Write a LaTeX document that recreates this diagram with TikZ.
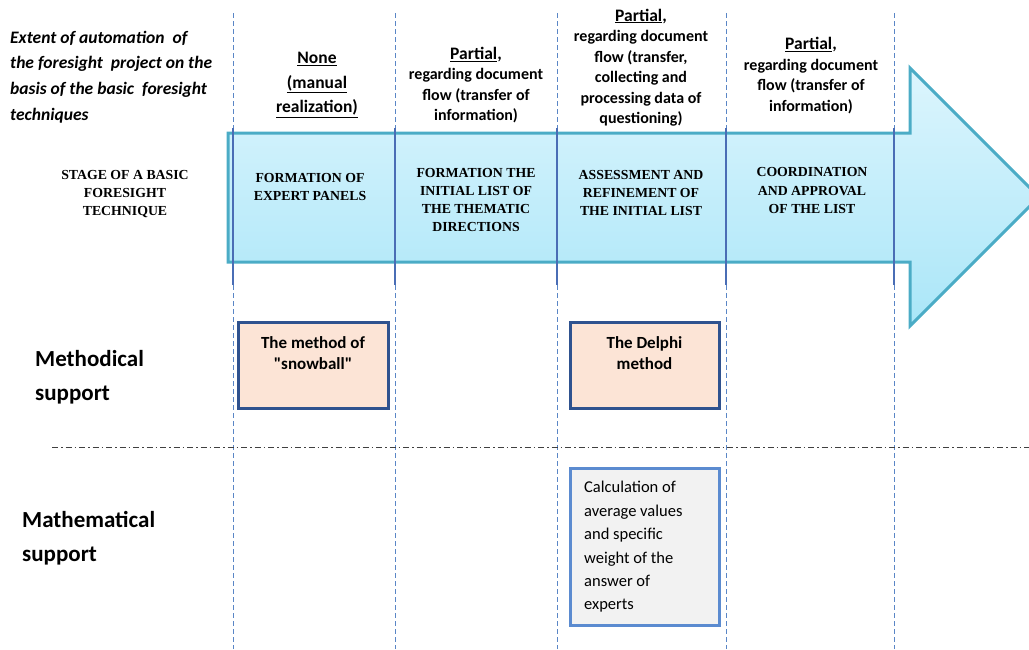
\documentclass[tikz,border=0pt]{standalone}
\usepackage{fontspec}
\setmainfont{Carlito}
\newfontfamily\straightquotes{Carlito}[Ligatures=TeXOff]
\newfontfamily\serifbold{Liberation Serif}
\usetikzlibrary{positioning}
\definecolor{arrowedge}{RGB}{75,172,198}
\definecolor{arrowtop}{RGB}{220,245,253}
\definecolor{arrowbot}{RGB}{170,230,248}
\definecolor{colline}{RGB}{90,134,198}
\definecolor{colsolid}{RGB}{74,109,181}
\definecolor{peach}{RGB}{252,228,214}
\definecolor{darkedge}{RGB}{47,82,143}
\definecolor{lightedge}{RGB}{91,139,208}
\definecolor{greyfill}{RGB}{242,242,242}
\newcommand{\dq}{{\straightquotes\bfseries"}}
\tikzset{
  coldash/.style={colline, line width=1pt, dash pattern=on 5pt off 3pt},
  colsolidline/.style={colsolid, line width=1.6pt},
  headtext/.style={align=center, inner sep=0pt, font=\bfseries\fontsize{16}{20.5}\selectfont},
  stagetext/.style={align=center, inner sep=0pt, font=\serifbold\bfseries\fontsize{13.8}{18.2}\selectfont},
  sidelabel/.style={align=left, anchor=west, inner sep=0pt, font=\bfseries\fontsize{23}{34}\selectfont},
  methodbox/.style={draw=darkedge, fill=peach, line width=3pt, inner sep=0pt},
  calcbox/.style={draw=lightedge, fill=greyfill, line width=3pt, inner sep=0pt},
  boxtext/.style={align=center, inner sep=0pt, font=\bfseries\fontsize{17}{21}\selectfont},
}
\begin{document}
\begin{tikzpicture}[x=1pt, y=-1pt]
\useasboundingbox (0,0) rectangle (1029,649);
\begin{scope}
\clip (0,0) rectangle (1029,649);

% column separators
\foreach \cx/\cn in {233/a,395/b,557/c,726/d,894/e}{
  \coordinate (top\cn) at (\cx,13);
  \coordinate (bot\cn) at (\cx,649);
  \draw[coldash] (top\cn) -- (bot\cn);
}

% the stage arrow
\path[top color=arrowtop, bottom color=arrowbot, draw=arrowedge, line width=3pt, line join=miter]
  (228,133) -- (910,133) -- (910,68) -- (1039,197) -- (910,326) -- (910,262) -- (228,262) -- cycle;

% column separators across the arrow
\foreach \cx/\cn in {233/a,395/b,557/c,726/d,894/e}{
  \coordinate (st\cn) at (\cx,128);
  \coordinate (sb\cn) at (\cx,285);
  \draw[colsolidline] (st\cn) -- (sb\cn);
}

% dash-dot separator between the support rows
\coordinate (sepL) at (52,447);
\coordinate (sepR) at (1029,447);
\draw[black!75, line width=0.9pt, dash pattern=on 6pt off 3pt on 1.5pt off 3pt] (sepL) -- (sepR);
\end{scope}

% row heading for the automation level
\node[anchor=west, align=left, inner sep=0pt, font=\bfseries\itshape\fontsize{17.5}{25.7}\selectfont] (extent) at (10,77)
  {Extent of automation\ \ of\\the foresight\ \ project on the\\basis of the basic\ \ foresight\\techniques};

% automation level per stage
\node[headtext, font=\bfseries\fontsize{17.5}{24.5}\selectfont] (auto1) at (317,85)
  {\underline{None}\\\underline{(manual}\\\underline{realization)}};
\node[headtext] (auto2) at (476,85)
  {{\fontsize{17.5}{20.5}\selectfont\underline{Partial},}\\regarding document\\flow (transfer of\\information)};
\node[headtext] (auto3) at (641,67.5)
  {{\fontsize{17.5}{20.5}\selectfont\underline{Partial},}\\regarding document\\flow (transfer,\\collecting and\\processing data of\\questioning)};
\node[headtext] (auto4) at (811,75.5)
  {{\fontsize{17.5}{20.5}\selectfont\underline{Partial},}\\regarding document\\flow (transfer of\\information)};

% stages
\node[stagetext] (stagehead) at (125,194) {STAGE OF A BASIC\\FORESIGHT\\TECHNIQUE};
\node[stagetext] (stage1) at (310,187) {FORMATION OF\\EXPERT PANELS};
\node[stagetext] (stage2) at (476,200) {FORMATION THE\\INITIAL LIST OF\\THE THEMATIC\\DIRECTIONS};
\node[stagetext] (stage3) at (641,193) {ASSESSMENT AND\\REFINEMENT OF\\THE INITIAL LIST};
\node[stagetext] (stage4) at (812,190.5) {COORDINATION\\AND APPROVAL\\OF THE LIST};

% support rows
\node[sidelabel] (methlabel) at (35,377) {Methodical\\support};
\node[sidelabel] (mathlabel) at (22,538) {Mathematical\\support};

% methodical support boxes
\node[methodbox, minimum width=150pt, minimum height=86pt] (snowball) at (313,365) {};
\node[boxtext] (snowballtxt) at (313,353) {The method of\\\dq snowball\dq};
\node[methodbox, minimum width=149pt, minimum height=86pt] (delphi) at (644.5,365) {};
\node[boxtext] (delphitxt) at (644.5,353) {The Delphi\\method};

% mathematical support box
\node[calcbox, minimum width=149pt, minimum height=157pt] (calc) at (644.5,546.5) {};
\node[anchor=west, align=left, inner sep=0pt, font=\fontsize{16.5}{23.4}\selectfont] (calctxt) at (584,547)
  {Calculation of\\average values\\and specific\\weight of the\\answer of\\experts};
\end{tikzpicture}
\end{document}
